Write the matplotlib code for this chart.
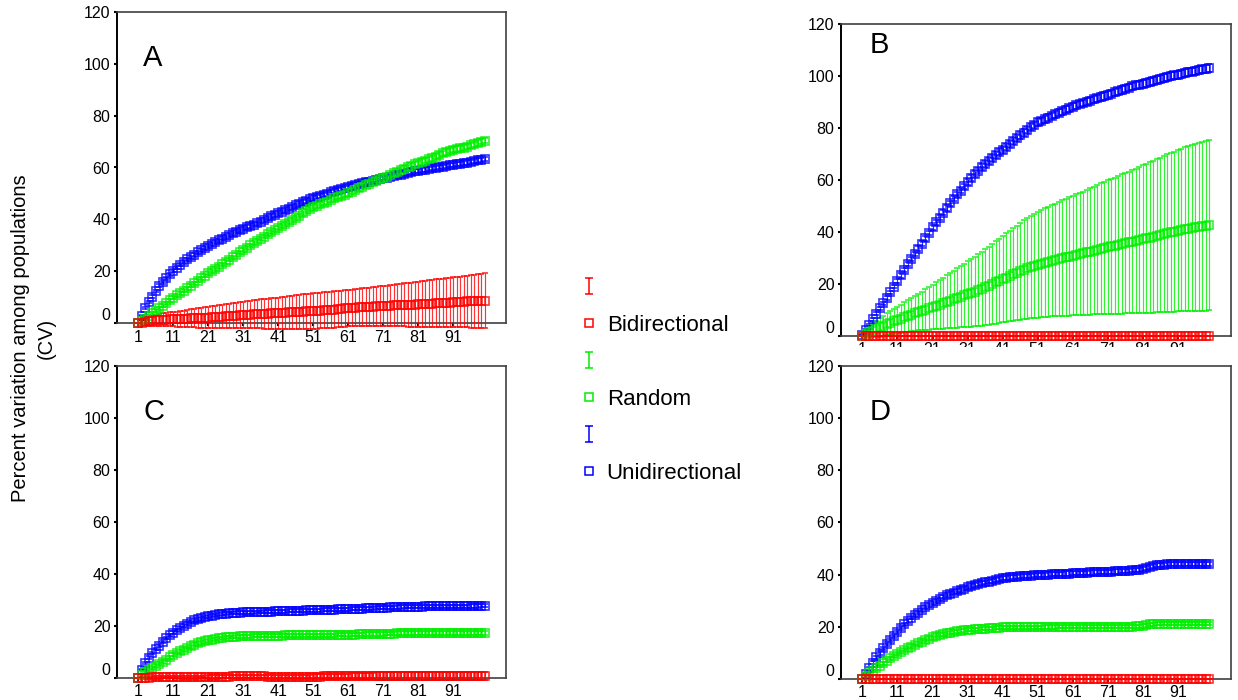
import numpy as np
import matplotlib
matplotlib.use("Agg")
import matplotlib.pyplot as plt
from matplotlib.lines import Line2D
from matplotlib.path import Path
from matplotlib.patches import Rectangle

plt.rcParams['font.family'] = ['Liberation Sans', 'DejaVu Sans']

# ---------------- data ----------------
categories = list(range(1, 101))
xtick_values = [1, 11, 21, 31, 41, 51, 61, 71, 81, 91]
ytick_values = [0, 20, 40, 60, 80, 100, 120]
series_names = ["Bidirectional", "Random", "Unidirectional"]
panel_letters = ["A", "B", "C", "D"]
y_label = "Percent variation among populations\n(CV)"

# Panel A
A_uni = [0.0, 3.0, 5.8, 8.2, 10.3, 12.4, 14.4, 15.9, 17.3, 18.8,
         20.3, 21.4, 22.5, 23.6, 24.6, 25.5, 26.3, 27.3, 28.2, 29.0,
         29.8, 30.5, 31.2, 31.9, 32.6, 33.3, 34.0, 34.7, 35.3, 35.9,
         36.5, 37.0, 37.5, 38.0, 38.5, 39.2, 39.9, 40.6, 41.2, 41.8,
         42.4, 43.0, 43.6, 44.2, 44.8, 45.4, 46.0, 46.6, 47.2, 47.7,
         48.1, 48.6, 49.0, 49.5, 49.9, 50.4, 50.8, 51.3, 51.7, 52.2,
         52.6, 52.9, 53.3, 53.6, 53.9, 54.3, 54.6, 54.9, 55.2, 55.5,
         55.8, 56.1, 56.4, 56.7, 57.0, 57.3, 57.6, 57.9, 58.2, 58.5,
         58.8, 59.0, 59.2, 59.4, 59.7, 59.9, 60.1, 60.3, 60.5, 60.8,
         61.0, 61.2, 61.4, 61.7, 61.9, 62.2, 62.4, 62.7, 62.9, 63.2]
A_uni_err = [0.0, 0.3, 0.4, 0.5, 0.5, 0.5, 0.6, 0.6, 0.6, 0.6,
             0.6, 0.6, 0.6, 0.6, 0.6, 0.6, 0.6, 0.6, 0.6, 0.6,
             0.7, 0.7, 0.7, 0.7, 0.7, 0.7, 0.7, 0.7, 0.7, 0.7,
             0.7, 0.7, 0.7, 0.7, 0.7, 0.7, 0.7, 0.7, 0.7, 0.7,
             0.7, 0.7, 0.7, 0.7, 0.7, 0.7, 0.7, 0.7, 0.7, 0.7,
             0.8, 0.8, 0.8, 0.8, 0.8, 0.8, 0.8, 0.8, 0.8, 0.8,
             0.8, 0.8, 0.8, 0.8, 0.8, 0.8, 0.8, 0.8, 0.8, 0.8,
             0.8, 0.8, 0.8, 0.8, 0.8, 0.8, 0.8, 0.8, 0.8, 0.8,
             0.8, 0.8, 0.8, 0.8, 0.8, 0.8, 0.8, 0.8, 0.8, 0.8,
             0.8, 0.8, 0.8, 0.8, 0.8, 0.8, 0.8, 0.8, 0.8, 0.8]
A_rnd = [0.0, 0.9, 1.7, 2.8, 3.9, 4.9, 5.8, 6.8, 7.7, 8.8,
         9.9, 10.8, 11.6, 12.6, 13.5, 14.5, 15.4, 16.4, 17.3, 18.3,
         19.3, 20.1, 21.0, 21.8, 22.7, 23.6, 24.5, 25.4, 26.4, 27.3,
         28.2, 29.1, 30.0, 30.9, 31.8, 32.6, 33.4, 34.2, 35.0, 35.8,
         36.6, 37.4, 38.2, 39.0, 39.8, 40.6, 41.4, 42.3, 43.1, 43.9,
         44.7, 45.3, 45.9, 46.4, 46.9, 47.5, 48.1, 48.7, 49.2, 49.6,
         50.0, 50.7, 51.3, 52.0, 52.6, 53.2, 53.8, 54.4, 54.9, 55.4,
         55.8, 56.4, 57.1, 57.7, 58.4, 59.0, 59.6, 60.2, 60.7, 61.2,
         61.6, 62.1, 62.6, 63.1, 63.5, 64.1, 64.8, 65.4, 66.0, 66.4,
         66.8, 67.1, 67.4, 67.7, 68.0, 68.5, 69.0, 69.4, 69.9, 70.3]
A_rnd_err = [0.0, 0.3, 0.4, 0.4, 0.5, 0.5, 0.5, 0.6, 0.6, 0.6,
             0.6, 0.6, 0.6, 0.6, 0.6, 0.6, 0.6, 0.6, 0.6, 0.6,
             0.7, 0.7, 0.7, 0.7, 0.7, 0.7, 0.7, 0.7, 0.7, 0.7,
             0.7, 0.7, 0.7, 0.7, 0.7, 0.7, 0.7, 0.7, 0.7, 0.7,
             0.8, 0.8, 0.8, 0.8, 0.8, 0.8, 0.8, 0.8, 0.8, 0.8,
             0.8, 0.8, 0.8, 0.8, 0.8, 0.8, 0.8, 0.8, 0.8, 0.8,
             0.9, 0.9, 0.9, 0.9, 0.9, 0.9, 0.9, 0.9, 0.9, 0.9,
             0.9, 0.9, 0.9, 0.9, 0.9, 0.9, 0.9, 0.9, 0.9, 0.9,
             1.0, 1.0, 1.0, 1.0, 1.0, 1.0, 1.0, 1.0, 1.0, 1.0,
             1.0, 1.0, 1.0, 1.0, 1.0, 1.0, 1.0, 1.0, 1.0, 1.0]
A_bi = [0.0, 0.3, 0.6, 0.8, 1.0, 1.1, 1.2, 1.3, 1.4, 1.5,
        1.5, 1.6, 1.7, 1.7, 1.8, 1.9, 2.0, 2.0, 2.1, 2.2,
        2.2, 2.3, 2.4, 2.5, 2.6, 2.7, 2.8, 2.9, 3.0, 3.1,
        3.2, 3.3, 3.3, 3.4, 3.5, 3.6, 3.6, 3.7, 3.8, 3.8,
        3.9, 4.0, 4.1, 4.2, 4.3, 4.3, 4.4, 4.5, 4.6, 4.6,
        4.7, 4.8, 4.9, 5.0, 5.1, 5.2, 5.3, 5.5, 5.6, 5.7,
        5.8, 5.9, 6.0, 6.1, 6.2, 6.2, 6.3, 6.4, 6.5, 6.6,
        6.7, 6.7, 6.8, 6.9, 6.9, 7.0, 7.1, 7.1, 7.2, 7.2,
        7.3, 7.4, 7.5, 7.6, 7.6, 7.7, 7.8, 7.9, 8.0, 8.0,
        8.1, 8.2, 8.2, 8.3, 8.4, 8.4, 8.5, 8.6, 8.6, 8.7]
A_bi_err = [0.0, 0.8, 1.3, 1.7, 2.0, 2.2, 2.3, 2.5, 2.6, 2.7,
            2.7, 2.9, 3.0, 3.2, 3.3, 3.5, 3.6, 3.8, 3.9, 4.1,
            4.2, 4.3, 4.4, 4.5, 4.6, 4.7, 4.8, 4.9, 5.0, 5.0,
            5.1, 5.2, 5.3, 5.4, 5.5, 5.6, 5.7, 5.8, 5.9, 5.9,
            6.0, 6.1, 6.2, 6.3, 6.4, 6.5, 6.5, 6.6, 6.7, 6.8,
            6.9, 6.9, 6.9, 6.9, 6.9, 6.9, 7.0, 7.0, 7.0, 7.0,
            7.0, 7.1, 7.2, 7.2, 7.3, 7.4, 7.4, 7.5, 7.6, 7.6,
            7.7, 7.8, 7.9, 8.0, 8.1, 8.2, 8.3, 8.4, 8.5, 8.6,
            8.7, 8.8, 8.9, 9.0, 9.1, 9.2, 9.3, 9.3, 9.4, 9.5,
            9.6, 9.7, 9.8, 9.9, 10.0, 10.1, 10.2, 10.3, 10.5, 10.6]

# Panel B
B_uni = [0.4, 2.3, 4.2, 6.4, 8.5, 10.6, 12.6, 14.7, 16.8, 19.0,
         21.2, 23.3, 25.4, 27.6, 29.7, 31.7, 33.6, 35.6, 37.6, 39.7,
         41.8, 43.7, 45.6, 47.5, 49.3, 51.1, 52.9, 54.5, 56.0, 57.6,
         59.2, 60.8, 62.3, 63.7, 65.0, 66.2, 67.4, 68.6, 69.7, 70.7,
         71.6, 72.7, 73.8, 75.0, 76.1, 77.2, 78.3, 79.4, 80.4, 81.3,
         82.2, 82.8, 83.4, 84.1, 84.7, 85.3, 85.9, 86.5, 87.1, 87.7,
         88.3, 88.8, 89.3, 89.7, 90.2, 90.6, 91.1, 91.5, 92.0, 92.4,
         92.8, 93.3, 93.8, 94.2, 94.7, 95.2, 95.6, 96.1, 96.5, 96.8,
         97.0, 97.4, 97.8, 98.2, 98.6, 99.0, 99.3, 99.7, 100.0, 100.3,
         100.5, 100.8, 101.2, 101.5, 101.8, 102.1, 102.4, 102.6, 102.9, 103.1]
B_uni_err = [0.2, 0.4, 0.5, 0.5, 0.6, 0.6, 0.6, 0.7, 0.7, 0.7,
             0.7, 0.8, 0.8, 0.8, 0.8, 0.8, 0.9, 0.9, 0.9, 0.9,
             0.9, 1.0, 1.0, 1.0, 1.0, 1.0, 1.0, 1.0, 1.0, 1.0,
             1.1, 1.1, 1.1, 1.1, 1.1, 1.1, 1.1, 1.1, 1.1, 1.1,
             1.2, 1.2, 1.2, 1.2, 1.2, 1.2, 1.2, 1.2, 1.2, 1.2,
             1.3, 1.3, 1.3, 1.3, 1.3, 1.3, 1.3, 1.3, 1.3, 1.3,
             1.3, 1.3, 1.3, 1.3, 1.3, 1.4, 1.4, 1.4, 1.4, 1.4,
             1.4, 1.4, 1.4, 1.4, 1.4, 1.4, 1.4, 1.4, 1.4, 1.4,
             1.5, 1.5, 1.5, 1.5, 1.5, 1.5, 1.5, 1.5, 1.5, 1.5,
             1.5, 1.5, 1.5, 1.5, 1.5, 1.5, 1.5, 1.5, 1.5, 1.5]
B_rnd = [0.0, 0.8, 1.5, 2.1, 2.7, 3.3, 3.9, 4.5, 5.1, 5.7,
         6.2, 6.7, 7.2, 7.7, 8.2, 8.7, 9.2, 9.7, 10.2, 10.7,
         11.2, 11.7, 12.1, 12.6, 13.1, 13.6, 14.1, 14.6, 15.1, 15.6,
         16.1, 16.6, 17.1, 17.6, 18.2, 18.8, 19.4, 20.0, 20.6, 21.3,
         21.9, 22.5, 23.1, 23.7, 24.3, 24.9, 25.5, 26.0, 26.5, 27.0,
         27.4, 27.8, 28.2, 28.6, 29.0, 29.3, 29.7, 30.0, 30.3, 30.6,
         30.9, 31.2, 31.5, 31.8, 32.2, 32.5, 32.9, 33.2, 33.6, 33.9,
         34.2, 34.5, 34.8, 35.1, 35.4, 35.7, 36.0, 36.3, 36.6, 37.0,
         37.3, 37.6, 37.9, 38.2, 38.6, 38.9, 39.3, 39.6, 39.9, 40.2,
         40.5, 40.8, 41.1, 41.3, 41.6, 41.8, 42.0, 42.3, 42.5, 42.7]
B_rnd_err = [0.0, 1.0, 1.8, 2.4, 3.0, 3.5, 3.9, 4.2, 4.5, 4.8,
             5.1, 5.4, 5.7, 6.0, 6.3, 6.6, 7.0, 7.4, 7.8, 8.2,
             8.6, 9.0, 9.4, 9.8, 10.2, 10.6, 11.0, 11.4, 11.8, 12.2,
             12.6, 13.0, 13.4, 13.8, 14.2, 14.6, 15.0, 15.4, 15.8, 16.2,
             16.6, 17.0, 17.4, 17.8, 18.2, 18.6, 19.0, 19.4, 19.7, 20.0,
             20.3, 20.6, 20.9, 21.1, 21.4, 21.7, 22.0, 22.2, 22.5, 22.8,
             23.0, 23.3, 23.6, 23.8, 24.1, 24.4, 24.6, 24.9, 25.2, 25.4,
             25.7, 26.0, 26.2, 26.5, 26.8, 27.0, 27.3, 27.6, 27.8, 28.1,
             28.4, 28.7, 29.0, 29.2, 29.5, 29.8, 30.0, 30.3, 30.5, 30.8,
             31.0, 31.3, 31.5, 31.7, 31.9, 32.1, 32.3, 32.5, 32.7, 32.8]
B_bi = [0.0, 0.0, 0.0, 0.0, 0.0, 0.0, 0.0, 0.0, 0.0, 0.0,
        0.0, 0.0, 0.0, 0.0, 0.0, 0.0, 0.0, 0.0, 0.0, 0.0,
        0.0, 0.0, 0.0, 0.0, 0.0, 0.0, 0.0, 0.0, 0.0, 0.0,
        0.0, 0.0, 0.0, 0.0, 0.0, 0.0, 0.0, 0.0, 0.0, 0.0,
        0.0, 0.0, 0.0, 0.0, 0.0, 0.0, 0.0, 0.0, 0.0, 0.0,
        0.0, 0.0, 0.0, 0.0, 0.0, 0.0, 0.0, 0.0, 0.0, 0.0,
        0.0, 0.0, 0.0, 0.0, 0.0, 0.0, 0.0, 0.0, 0.0, 0.0,
        0.0, 0.0, 0.0, 0.0, 0.0, 0.0, 0.0, 0.0, 0.0, 0.0,
        0.0, 0.0, 0.0, 0.0, 0.0, 0.0, 0.0, 0.0, 0.0, 0.0,
        0.0, 0.0, 0.0, 0.0, 0.0, 0.0, 0.0, 0.0, 0.0, 0.0]
B_bi_err = [0.0, 0.1, 0.1, 0.1, 0.1, 0.1, 0.1, 0.1, 0.1, 0.1,
            0.1, 0.1, 0.1, 0.1, 0.1, 0.1, 0.1, 0.1, 0.1, 0.1,
            0.1, 0.1, 0.1, 0.1, 0.1, 0.1, 0.1, 0.1, 0.1, 0.1,
            0.1, 0.1, 0.1, 0.1, 0.1, 0.1, 0.1, 0.1, 0.1, 0.1,
            0.1, 0.1, 0.1, 0.1, 0.1, 0.1, 0.1, 0.1, 0.1, 0.1,
            0.1, 0.1, 0.1, 0.1, 0.1, 0.1, 0.1, 0.1, 0.1, 0.1,
            0.1, 0.1, 0.1, 0.1, 0.1, 0.1, 0.1, 0.1, 0.1, 0.1,
            0.1, 0.1, 0.1, 0.1, 0.1, 0.1, 0.1, 0.1, 0.1, 0.1,
            0.1, 0.1, 0.1, 0.1, 0.1, 0.1, 0.1, 0.1, 0.1, 0.1,
            0.1, 0.1, 0.1, 0.1, 0.1, 0.1, 0.1, 0.1, 0.1, 0.1]

# Panel C
C_uni = [0.0, 3.2, 5.8, 7.8, 9.6, 11.1, 12.5, 14.0, 15.4, 16.5,
         17.5, 18.4, 19.2, 20.1, 20.9, 21.6, 22.2, 22.6, 23.0, 23.4,
         23.7, 24.0, 24.3, 24.5, 24.7, 24.8, 25.0, 25.0, 25.1, 25.1,
         25.2, 25.2, 25.3, 25.3, 25.4, 25.4, 25.5, 25.5, 25.5, 25.6,
         25.6, 25.7, 25.7, 25.8, 25.8, 25.9, 25.9, 25.9, 26.0, 26.0,
         26.0, 26.1, 26.1, 26.2, 26.2, 26.3, 26.3, 26.4, 26.4, 26.5,
         26.5, 26.6, 26.6, 26.7, 26.7, 26.8, 26.8, 26.9, 27.0, 27.0,
         27.1, 27.1, 27.2, 27.2, 27.3, 27.3, 27.4, 27.4, 27.5, 27.5,
         27.5, 27.5, 27.6, 27.6, 27.6, 27.6, 27.6, 27.6, 27.6, 27.6,
         27.6, 27.6, 27.6, 27.6, 27.6, 27.7, 27.7, 27.7, 27.8, 27.8]
C_uni_err = [0.0, 0.3, 0.4, 0.5, 0.5, 0.5, 0.5, 0.5, 0.5, 0.5,
             0.5, 0.5, 0.5, 0.5, 0.5, 0.5, 0.5, 0.5, 0.5, 0.5,
             0.5, 0.5, 0.5, 0.5, 0.5, 0.5, 0.5, 0.5, 0.5, 0.5,
             0.5, 0.5, 0.5, 0.5, 0.5, 0.5, 0.5, 0.5, 0.5, 0.5,
             0.6, 0.6, 0.6, 0.6, 0.6, 0.6, 0.6, 0.6, 0.6, 0.6,
             0.6, 0.6, 0.6, 0.6, 0.6, 0.6, 0.6, 0.6, 0.6, 0.6,
             0.6, 0.6, 0.6, 0.6, 0.6, 0.6, 0.6, 0.6, 0.6, 0.6,
             0.6, 0.6, 0.6, 0.6, 0.6, 0.6, 0.6, 0.6, 0.6, 0.6,
             0.6, 0.6, 0.6, 0.6, 0.6, 0.6, 0.6, 0.6, 0.6, 0.6,
             0.6, 0.6, 0.6, 0.6, 0.6, 0.6, 0.6, 0.6, 0.6, 0.6]
C_rnd = [0.0, 1.1, 2.2, 3.0, 3.8, 4.7, 5.5, 6.3, 7.0, 8.0,
         9.0, 9.6, 10.2, 10.9, 11.5, 12.2, 12.8, 13.3, 13.7, 14.1,
         14.5, 14.8, 15.0, 15.2, 15.4, 15.6, 15.7, 15.8, 15.9, 16.0,
         16.0, 16.1, 16.1, 16.2, 16.2, 16.2, 16.3, 16.3, 16.3, 16.3,
         16.3, 16.3, 16.4, 16.4, 16.4, 16.4, 16.4, 16.4, 16.4, 16.4,
         16.4, 16.4, 16.5, 16.5, 16.5, 16.5, 16.5, 16.6, 16.6, 16.6,
         16.6, 16.7, 16.7, 16.8, 16.8, 16.9, 16.9, 16.9, 17.0, 17.0,
         17.0, 17.1, 17.1, 17.1, 17.2, 17.2, 17.2, 17.2, 17.3, 17.3,
         17.3, 17.3, 17.3, 17.3, 17.3, 17.3, 17.3, 17.3, 17.3, 17.3,
         17.3, 17.3, 17.3, 17.3, 17.3, 17.3, 17.3, 17.3, 17.3, 17.3]
C_rnd_err = [0.0, 0.3, 0.4, 0.4, 0.5, 0.5, 0.5, 0.5, 0.5, 0.5,
             0.5, 0.5, 0.5, 0.5, 0.5, 0.5, 0.5, 0.5, 0.5, 0.5,
             0.5, 0.5, 0.5, 0.5, 0.5, 0.5, 0.5, 0.5, 0.5, 0.5,
             0.6, 0.6, 0.6, 0.6, 0.6, 0.6, 0.6, 0.6, 0.6, 0.6,
             0.6, 0.6, 0.6, 0.6, 0.6, 0.6, 0.6, 0.6, 0.6, 0.6,
             0.6, 0.6, 0.6, 0.6, 0.6, 0.6, 0.6, 0.6, 0.6, 0.6,
             0.7, 0.7, 0.7, 0.7, 0.7, 0.7, 0.7, 0.7, 0.7, 0.7,
             0.7, 0.7, 0.7, 0.7, 0.7, 0.7, 0.7, 0.7, 0.7, 0.7,
             0.8, 0.8, 0.8, 0.8, 0.8, 0.8, 0.8, 0.8, 0.8, 0.8,
             0.8, 0.8, 0.8, 0.8, 0.8, 0.8, 0.8, 0.8, 0.8, 0.8]
C_bi = [0.0, 0.0, 0.1, 0.1, 0.2, 0.2, 0.2, 0.3, 0.3, 0.3,
        0.3, 0.3, 0.3, 0.3, 0.3, 0.3, 0.3, 0.3, 0.4, 0.4,
        0.4, 0.4, 0.4, 0.4, 0.5, 0.5, 0.5, 0.6, 0.6, 0.6,
        0.6, 0.6, 0.6, 0.6, 0.6, 0.6, 0.6, 0.5, 0.5, 0.5,
        0.5, 0.5, 0.5, 0.5, 0.5, 0.5, 0.5, 0.5, 0.5, 0.5,
        0.5, 0.5, 0.5, 0.6, 0.6, 0.6, 0.6, 0.6, 0.7, 0.7,
        0.7, 0.7, 0.7, 0.7, 0.7, 0.8, 0.8, 0.8, 0.8, 0.8,
        0.8, 0.8, 0.8, 0.8, 0.8, 0.8, 0.8, 0.8, 0.8, 0.8,
        0.8, 0.8, 0.8, 0.8, 0.8, 0.8, 0.8, 0.8, 0.8, 0.8,
        0.8, 0.8, 0.8, 0.8, 0.8, 0.8, 0.8, 0.8, 0.8, 0.8]
C_bi_err = [0.0, 0.2, 0.3, 0.3, 0.4, 0.4, 0.4, 0.4, 0.4, 0.4,
            0.4, 0.4, 0.5, 0.5, 0.5, 0.5, 0.5, 0.5, 0.5, 0.5,
            0.6, 0.6, 0.6, 0.6, 0.6, 0.6, 0.6, 0.6, 0.6, 0.6,
            0.7, 0.7, 0.7, 0.7, 0.7, 0.7, 0.7, 0.7, 0.7, 0.7,
            0.8, 0.8, 0.8, 0.8, 0.8, 0.8, 0.8, 0.8, 0.8, 0.8,
            0.9, 0.9, 0.9, 0.9, 0.9, 0.9, 0.9, 0.9, 0.9, 0.9,
            1.0, 1.1, 1.1, 1.2, 1.2, 1.3, 1.3, 1.3, 1.4, 1.4,
            1.4, 1.4, 1.4, 1.4, 1.4, 1.4, 1.4, 1.4, 1.4, 1.4,
            1.5, 1.5, 1.5, 1.5, 1.5, 1.5, 1.5, 1.5, 1.5, 1.5,
            1.5, 1.5, 1.5, 1.5, 1.5, 1.5, 1.5, 1.5, 1.5, 1.5]

# Panel D
D_uni = [0.0, 2.0, 4.1, 6.2, 8.3, 10.0, 11.7, 13.3, 14.9, 16.5,
         18.0, 19.5, 20.9, 22.2, 23.5, 24.5, 25.4, 26.5, 27.5, 28.4,
         29.2, 29.9, 30.5, 31.4, 32.2, 32.7, 33.1, 33.6, 34.1, 34.6,
         35.1, 35.5, 35.9, 36.3, 36.7, 37.0, 37.3, 37.6, 37.9, 38.3,
         38.6, 38.8, 38.9, 39.1, 39.2, 39.3, 39.4, 39.5, 39.6, 39.7,
         39.7, 39.8, 39.9, 40.0, 40.1, 40.2, 40.2, 40.3, 40.4, 40.4,
         40.5, 40.5, 40.6, 40.6, 40.7, 40.8, 40.8, 40.9, 41.0, 41.0,
         41.1, 41.1, 41.2, 41.2, 41.3, 41.4, 41.5, 41.6, 41.7, 41.8,
         42.0, 42.4, 42.8, 43.3, 43.7, 43.8, 43.8, 43.9, 43.9, 43.9,
         43.9, 43.9, 43.9, 43.9, 43.9, 44.0, 44.0, 44.0, 44.1, 44.1]
D_uni_err = [0.0, 0.3, 0.5, 0.6, 0.6, 0.7, 0.7, 0.7, 0.7, 0.7,
             0.7, 0.7, 0.7, 0.7, 0.7, 0.7, 0.7, 0.7, 0.7, 0.7,
             0.7, 0.7, 0.7, 0.7, 0.7, 0.7, 0.7, 0.7, 0.7, 0.7,
             0.7, 0.7, 0.7, 0.7, 0.7, 0.7, 0.7, 0.7, 0.7, 0.7,
             0.8, 0.8, 0.8, 0.8, 0.8, 0.8, 0.8, 0.8, 0.8, 0.8,
             0.8, 0.8, 0.8, 0.8, 0.8, 0.8, 0.8, 0.8, 0.8, 0.8,
             0.8, 0.8, 0.8, 0.8, 0.8, 0.8, 0.8, 0.8, 0.8, 0.8,
             0.8, 0.8, 0.8, 0.8, 0.8, 0.8, 0.8, 0.8, 0.8, 0.8,
             0.8, 0.8, 0.8, 0.8, 0.8, 0.8, 0.8, 0.8, 0.8, 0.8,
             0.8, 0.8, 0.8, 0.8, 0.8, 0.8, 0.8, 0.8, 0.8, 0.8]
D_rnd = [0.0, 1.2, 2.4, 3.2, 4.1, 5.0, 6.0, 7.0, 7.9, 8.8,
         9.6, 10.4, 11.1, 11.8, 12.4, 13.0, 13.7, 14.3, 14.9, 15.5,
         16.0, 16.5, 16.9, 17.2, 17.5, 17.8, 18.0, 18.2, 18.4, 18.6,
         18.8, 18.9, 19.0, 19.1, 19.2, 19.3, 19.4, 19.5, 19.6, 19.7,
         19.8, 19.8, 19.8, 19.8, 19.8, 19.8, 19.8, 19.8, 19.8, 19.8,
         19.8, 19.8, 19.9, 19.9, 19.9, 19.9, 20.0, 20.0, 20.0, 20.0,
         20.1, 20.1, 20.1, 20.1, 20.1, 20.1, 20.1, 20.1, 20.1, 20.1,
         20.1, 20.1, 20.0, 20.0, 20.0, 20.0, 20.1, 20.1, 20.2, 20.2,
         20.3, 20.6, 20.9, 21.0, 21.1, 21.1, 21.1, 21.1, 21.1, 21.1,
         21.1, 21.1, 21.1, 21.1, 21.1, 21.1, 21.1, 21.1, 21.1, 21.1]
D_rnd_err = [0.0, 0.3, 0.4, 0.4, 0.5, 0.5, 0.5, 0.5, 0.5, 0.5,
             0.5, 0.5, 0.5, 0.5, 0.5, 0.5, 0.5, 0.5, 0.5, 0.5,
             0.6, 0.6, 0.6, 0.6, 0.6, 0.6, 0.6, 0.6, 0.6, 0.6,
             0.6, 0.6, 0.6, 0.6, 0.6, 0.6, 0.6, 0.6, 0.6, 0.6,
             0.6, 0.6, 0.6, 0.6, 0.6, 0.6, 0.6, 0.6, 0.6, 0.6,
             0.6, 0.6, 0.6, 0.6, 0.6, 0.6, 0.6, 0.6, 0.6, 0.6,
             0.6, 0.6, 0.6, 0.6, 0.6, 0.6, 0.6, 0.6, 0.6, 0.6,
             0.6, 0.6, 0.6, 0.6, 0.6, 0.6, 0.6, 0.6, 0.6, 0.6,
             0.6, 0.6, 0.6, 0.6, 0.6, 0.6, 0.6, 0.6, 0.6, 0.6,
             0.6, 0.6, 0.6, 0.6, 0.6, 0.6, 0.6, 0.6, 0.6, 0.6]
D_bi = [0.0, 0.0, 0.0, 0.0, 0.0, 0.0, 0.0, 0.0, 0.0, 0.0,
        0.0, 0.0, 0.0, 0.0, 0.0, 0.0, 0.0, 0.0, 0.0, 0.0,
        0.0, 0.0, 0.0, 0.0, 0.0, 0.0, 0.0, 0.0, 0.0, 0.0,
        0.0, 0.0, 0.0, 0.0, 0.0, 0.0, 0.0, 0.0, 0.0, 0.0,
        0.0, 0.0, 0.0, 0.0, 0.0, 0.0, 0.0, 0.0, 0.0, 0.0,
        0.0, 0.0, 0.0, 0.0, 0.0, 0.0, 0.0, 0.0, 0.0, 0.0,
        0.0, 0.0, 0.0, 0.0, 0.0, 0.0, 0.0, 0.0, 0.0, 0.0,
        0.0, 0.0, 0.0, 0.0, 0.0, 0.0, 0.0, 0.0, 0.0, 0.0,
        0.0, 0.0, 0.0, 0.0, 0.0, 0.0, 0.0, 0.0, 0.0, 0.0,
        0.0, 0.0, 0.0, 0.0, 0.0, 0.0, 0.0, 0.0, 0.0, 0.0]
D_bi_err = [0.0, 0.1, 0.1, 0.1, 0.1, 0.1, 0.1, 0.1, 0.1, 0.1,
            0.1, 0.1, 0.1, 0.1, 0.1, 0.1, 0.1, 0.1, 0.1, 0.1,
            0.1, 0.1, 0.1, 0.1, 0.1, 0.1, 0.1, 0.1, 0.1, 0.1,
            0.1, 0.1, 0.1, 0.1, 0.1, 0.1, 0.1, 0.1, 0.1, 0.1,
            0.1, 0.1, 0.1, 0.1, 0.1, 0.1, 0.1, 0.1, 0.1, 0.1,
            0.1, 0.1, 0.1, 0.1, 0.1, 0.1, 0.1, 0.1, 0.1, 0.1,
            0.1, 0.1, 0.1, 0.1, 0.1, 0.1, 0.1, 0.1, 0.1, 0.1,
            0.1, 0.1, 0.1, 0.1, 0.1, 0.1, 0.1, 0.1, 0.1, 0.1,
            0.1, 0.1, 0.1, 0.1, 0.1, 0.1, 0.1, 0.1, 0.1, 0.1,
            0.1, 0.1, 0.1, 0.1, 0.1, 0.1, 0.1, 0.1, 0.1, 0.1]

# ---------------- style ----------------
COLORS = {"Bidirectional": "#ff0000", "Random": "#00ee00", "Unidirectional": "#0000ff"}
W, H = 1238, 700

fig = plt.figure(figsize=(W / 100, H / 100), dpi=100)
fig.patch.set_facecolor("white")


def px_rect(left, top, right, bottom):
    return [left / W, 1 - bottom / H, (right - left) / W, (bottom - top) / H]


panel_boxes = {
    "A": px_rect(116.7, 11.7, 506.0, 323.3),
    "B": px_rect(840.7, 24.3, 1230.7, 336.0),
    "C": px_rect(116.7, 366.0, 506.0, 678.0),
    "D": px_rect(840.7, 365.7, 1230.7, 679.0),
}
letter_pos = {"A": (0.068, 0.852), "B": (0.073, 0.934), "C": (0.068, 0.853), "D": (0.073, 0.852)}

panel_data = {
    "A": {"Unidirectional": (A_uni, A_uni_err), "Random": (A_rnd, A_rnd_err), "Bidirectional": (A_bi, A_bi_err)},
    "B": {"Unidirectional": (B_uni, B_uni_err), "Random": (B_rnd, B_rnd_err), "Bidirectional": (B_bi, B_bi_err)},
    "C": {"Unidirectional": (C_uni, C_uni_err), "Random": (C_rnd, C_rnd_err), "Bidirectional": (C_bi, C_bi_err)},
    "D": {"Unidirectional": (D_uni, D_uni_err), "Random": (D_rnd, D_rnd_err), "Bidirectional": (D_bi, D_bi_err)},
}

x = np.array(categories)
for letter in panel_letters:
    ax = fig.add_axes(panel_boxes[letter])
    for name in ["Unidirectional", "Random", "Bidirectional"]:
        mean, err = panel_data[letter][name]
        c = COLORS[name]
        ax.errorbar(x, mean, yerr=err, fmt="s", ms=6.4, mfc="none", mec=c, mew=1.2,
                    ecolor=c, elinewidth=0.85, capsize=2.0, capthick=0.85,
                    alpha=0.8, clip_on=False, zorder=3)
    ax.set_xlim(-5.2, 106.1)
    ax.set_ylim(0, 120)
    ax.set_xticks(xtick_values)
    ax.set_xticklabels([str(v) for v in xtick_values])
    ax.set_yticks(ytick_values)
    ax.set_yticklabels([str(v) for v in ytick_values])
    ax.tick_params(axis="both", direction="out", length=2.5, width=1.5, labelsize=11.5,
                   colors="black", pad=2)
    ax.get_yticklabels()[0].set_verticalalignment("bottom")
    for side in ["top", "right", "bottom"]:
        ax.spines[side].set_color("#404040")
        ax.spines[side].set_linewidth(1.2)
    ax.spines["left"].set_color("black")
    ax.spines["left"].set_linewidth(1.4)
    lx, ly = letter_pos[letter]
    ax.text(lx, ly, letter, transform=ax.transAxes, fontsize=21, ha="left", va="center")

# Cover strip that hides the lower part of panel B's x tick labels (as in the source)
fig.patches.append(Rectangle((830 / W, 1 - 358 / H), (W - 830) / W, 11 / H,
                             transform=fig.transFigure, facecolor="white",
                             edgecolor="none", zorder=10))

# y label
fig.text(0.027, 0.517, y_label, rotation=90, ha="center", va="center",
         multialignment="center", fontsize=14.5, linespacing=1.4)

# legend
ipath = Path([(-0.45, 1), (0.45, 1), (0, 1), (0, -1), (-0.45, -1), (0.45, -1)],
             [Path.MOVETO, Path.LINETO, Path.MOVETO, Path.LINETO, Path.MOVETO, Path.LINETO])
handles, labels = [], []
for name in series_names:
    c = COLORS[name]
    handles.append(Line2D([], [], ls="none", marker=ipath, ms=12, mec=c, mfc="none", mew=1.1))
    labels.append("")
    handles.append(Line2D([], [], ls="none", marker="s", ms=6, mec=c, mfc="none", mew=1.1))
    labels.append(name)
fig.legend(handles, labels, loc="upper left", bbox_to_anchor=(582.3 / W, 1 - 278 / H),
           frameon=False, fontsize=16, handlelength=0.6, handletextpad=0.5,
           labelspacing=0.72, borderpad=0, borderaxespad=0)

fig.savefig("out.png", dpi=100, facecolor="white")
